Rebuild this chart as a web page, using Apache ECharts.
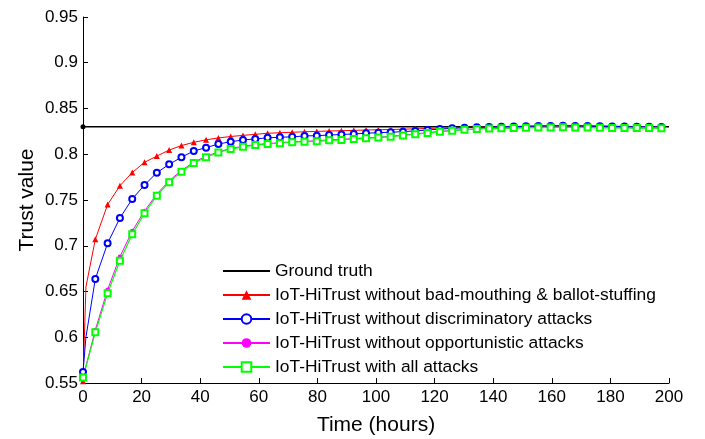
<!DOCTYPE html>
<html>
<head>
<meta charset="utf-8">
<script src="https://cdn.jsdelivr.net/npm/echarts@6/dist/echarts.min.js"></script>
<style>html,body{margin:0;padding:0;background:#fff;}#c{width:705px;height:439px;}</style>
</head>
<body>
<div id="c"></div>
<script>
const times = [0,4.2,8.4,12.6,16.8,21,25.2,29.4,33.6,37.8,42,46.2,50.4,54.6,58.8,63,67.2,71.4,75.6,79.8,84,88.2,92.4,96.6,100.8,105,109.2,113.4,117.6,121.8,126,130.2,134.4,138.6,142.8,147,151.2,155.4,159.6,163.8,168,172.2,176.4,180.6,184.8,189,193.2,197.4];
const groundTruthT = [0, 200];
const groundTruth = [0.83, 0.83];
const redKink = [1, 0.655];
const blueKink = [1, 0.60];
const red = [0.552,0.707,0.745,0.7656,0.780,0.7912,0.798,0.8046,0.8095,0.813,0.8158,0.8178,0.8194,0.8206,0.8218,0.8229,0.8235,0.824,0.8246,0.825,0.8254,0.8257,0.8261,0.8265,0.8268,0.827,0.8274,0.8278,0.8282,0.8286,0.829,0.8293,0.8296,0.8298,0.83,0.8303,0.8307,0.831,0.8313,0.8315,0.8315,0.8312,0.831,0.8307,0.8305,0.8303,0.8302,0.8302];
const blue = [0.562,0.6637,0.7027,0.7303,0.7511,0.7664,0.7798,0.789,0.7967,0.8036,0.8072,0.8112,0.8137,0.8156,0.8168,0.8179,0.8186,0.819,0.82,0.8203,0.821,0.8216,0.8222,0.8229,0.8236,0.824,0.8247,0.8255,0.8265,0.8275,0.8283,0.829,0.8294,0.8297,0.83,0.8302,0.8305,0.8308,0.831,0.8311,0.831,0.8308,0.8306,0.8304,0.8302,0.83,0.83,0.8299];
const magenta = [0.556,0.608,0.652,0.688,0.716,0.738,0.7565,0.771,0.7822,0.7914,0.7976,0.8026,0.8063,0.8087,0.8105,0.8117,0.8126,0.8136,0.8142,0.8147,0.8157,0.8162,0.8172,0.8179,0.8186,0.8196,0.8209,0.8222,0.8236,0.8249,0.8261,0.827,0.8278,0.8283,0.8286,0.8289,0.8292,0.8295,0.8297,0.8298,0.8297,0.8295,0.8293,0.8291,0.829,0.8289,0.8289,0.8288];
const green = [0.556,0.6054,0.648,0.6837,0.7125,0.7355,0.7547,0.7693,0.781,0.7904,0.7967,0.8019,0.8057,0.8081,0.81,0.8112,0.812,0.8131,0.8137,0.8141,0.8152,0.8156,0.8167,0.8174,0.8182,0.8192,0.8205,0.8218,0.8232,0.8246,0.8258,0.8268,0.8276,0.8281,0.8284,0.8286,0.8289,0.8291,0.8293,0.8294,0.8293,0.8291,0.8289,0.8288,0.8287,0.8286,0.8286,0.8285];
const yTicks = {min: 0.55, max: 0.95, interval: 0.05};
const xTicks = {min: 0, max: 200, interval: 20};
const names = ['Ground truth','IoT-HiTrust without bad-mouthing & ballot-stuffing','IoT-HiTrust without discriminatory attacks','IoT-HiTrust without opportunistic attacks','IoT-HiTrust with all attacks'];

function pairs(vals, kink) {
  const d = times.map((t, i) => [t, vals[i]]);
  if (kink) d.splice(1, 0, {value: kink, symbol: 'none'});
  return d;
}
const font = 'Liberation Sans, Arial, sans-serif';
const chart = echarts.init(document.getElementById('c'), null, {renderer: 'canvas'});
chart.setOption({
  animation: false,
  backgroundColor: '#fff',
  grid: {left: 83, right: 36, top: 17, bottom: 56, containLabel: false, outerBoundsMode: 'none'},
  xAxis: {
    type: 'value', min: xTicks.min, max: xTicks.max, interval: xTicks.interval,
    name: 'Time (hours)', nameLocation: 'middle', nameGap: 32, nameMoveOverlap: false,
    nameTextStyle: {fontSize: 21, color: '#000', fontFamily: font},
    axisLine: {show: true, lineStyle: {color: '#000', width: 1}},
    axisTick: {show: true, inside: true, length: 5, lineStyle: {color: '#000'}},
    axisLabel: {fontSize: 17, color: '#000', margin: 6, fontFamily: font},
    splitLine: {show: false}
  },
  yAxis: {
    type: 'value', min: yTicks.min, max: yTicks.max, interval: yTicks.interval,
    name: 'Trust value', nameLocation: 'middle', nameGap: 45, nameMoveOverlap: false,
    nameTextStyle: {fontSize: 21, color: '#000', fontFamily: font},
    axisLine: {show: true, lineStyle: {color: '#000', width: 1}},
    axisTick: {show: true, inside: true, length: 5, lineStyle: {color: '#000'}},
    axisLabel: {fontSize: 17, color: '#000', margin: 5, fontFamily: font},
    splitLine: {show: false}
  },
  legend: {
    orient: 'vertical', left: 222, top: 261, padding: 0,
    itemWidth: 47, itemHeight: 12, itemGap: 4,
    textStyle: {fontSize: 17.4, color: '#000', fontFamily: font, lineHeight: 20},
    data: [{name: names[0], itemStyle: {opacity: 0}}, names[1], names[2], names[3], names[4]]
  },
  series: [
    {name: names[0], type: 'line', color: '#000', lineStyle: {width: 1.5, color: '#000'},
     symbol: 'circle', symbolSize: 5, itemStyle: {color: '#000'},
     data: groundTruthT.map((t, i) => i === 0 ? [t, groundTruth[i]] : {value: [t, groundTruth[i]], symbol: 'none'})},
    {name: names[1], type: 'line', color: '#ff0000', lineStyle: {width: 1, color: '#ff0000'},
     symbol: 'triangle', symbolSize: 6, itemStyle: {color: '#ff0000'}, data: pairs(red, redKink)},
    {name: names[2], type: 'line', color: '#0000ff', lineStyle: {width: 1, color: '#0000ff'},
     symbol: 'emptyCircle', symbolSize: 6, itemStyle: {color: '#0000ff', borderWidth: 1}, data: pairs(blue, blueKink)},
    {name: names[3], type: 'line', color: '#ff00ff', lineStyle: {width: 1, color: '#ff00ff'},
     symbol: 'circle', symbolSize: 4.5, itemStyle: {color: '#ff00ff'}, data: pairs(magenta)},
    {name: names[4], type: 'line', color: '#00ff00', lineStyle: {width: 1.2, color: '#00ff00'},
     symbol: 'emptyRect', symbolSize: 6, itemStyle: {color: '#00ff00', borderWidth: 1.2}, data: pairs(green)}
  ]
});
</script>
</body>
</html>
